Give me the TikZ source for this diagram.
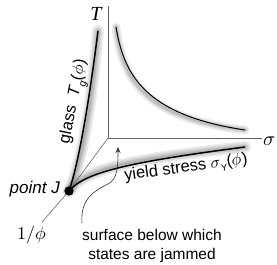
\documentclass[tikz,border=0pt]{standalone}
\usepackage{fontspec}
\usepackage{unicode-math}
\setmathfont{Latin Modern Math}
\newfontfamily\hv{Liberation Sans}
\newfontfamily\tms{Liberation Serif}
\usetikzlibrary{arrows.meta}
\begin{document}
\begin{tikzpicture}[x=1pt,y=-1pt,
  axis/.style={draw=black!60, line width=0.6pt},
  curve/.style={line width=1.5pt, draw=black},
  glow/.style={line width=#1, draw=black, opacity=0.07, line cap=round},
  lbl/.style={font=\hv\fontsize{15.5}{18.5}\selectfont, inner sep=0},
]
\useasboundingbox (0,0) rectangle (277,265);
\coordinate (O) at (108,138);
\coordinate (Ttop) at (108,6);
\coordinate (Send) at (262,138);
\coordinate (Pend) at (42,222);
\coordinate (Gtop) at (98,31);
\coordinate (Yend) at (245,147);
\coordinate (Ua) at (116,27);
\coordinate (Ub) at (245,130);
\coordinate (Astart) at (82,223);
\coordinate (Atip) at (118,147);
\node[circle, fill=black, inner sep=0, minimum size=9pt] (J) at (69,191) {};

% shadows
\foreach \w in {2,4,6,9,12}{
  \draw[glow=\w pt, xshift=3pt] (J.center) .. controls (78,165) and (88,110) .. (Gtop);
  \draw[glow=\w pt, yshift=3pt] (J.center) .. controls (85,172) and (130,162) .. (Yend);
}
\foreach \w in {2,4,6,9}{
  \draw[glow=\w pt, xshift=-2pt, yshift=-3pt] (Ua) .. controls (124,75) and (145,115) .. (Ub);
}

% axes
\draw[axis] (O) -- (Ttop);
\draw[axis] (O) -- (Send);
\draw[axis] (O) -- (J.center) -- (Pend);

% curves
\draw[curve] (J.center) .. controls (78,165) and (88,110) .. (Gtop);
\draw[curve] (J.center) .. controls (85,172) and (130,162) .. (Yend);
\draw[line width=1pt] (Ua) .. controls (124,75) and (145,115) .. (Ub);
\node[circle, fill=black, inner sep=0, minimum size=9pt] at (J) {};

% arrow
\draw[draw=black!80, line width=0.6pt, -{Stealth[length=6pt,width=5pt]}] (Astart) .. controls (80,198) and (96,190) .. (108,184) .. controls (118,179) and (118,165) .. (Atip);

% labels
\node[inner sep=0] (Tl) at (96,14) {\tms\itshape\fontsize{20}{20}\selectfont T};
\node[inner sep=0] (Sl) at (269,141) {\fontsize{20}{20}\selectfont$\sigma$};
\node[inner sep=0] (Pl) at (32,235) {\fontsize{18}{20}\selectfont$1/\phi$};
\node[lbl, anchor=east] (Jl) at (60,189) {\itshape\fontsize{17}{20}\selectfont point J};
\node[lbl, rotate=79] (Gl) at (75,102) {\fontsize{16.5}{19}\selectfont glass\ \ \textit{T}\raisebox{-.3em}{\fontsize{10.5}{10.5}\selectfont\textit{g}}($\phi$)};
\node[lbl, rotate=8] (Yl) at (186,168) {\fontsize{16.5}{19}\selectfont yield stress $\sigma$\raisebox{-.25em}{\fontsize{9.5}{9.5}\selectfont Y}($\phi$)};
\node[lbl, align=center] (Sf) at (152,246) {surface below which\\states are jammed};
\end{tikzpicture}
\end{document}
